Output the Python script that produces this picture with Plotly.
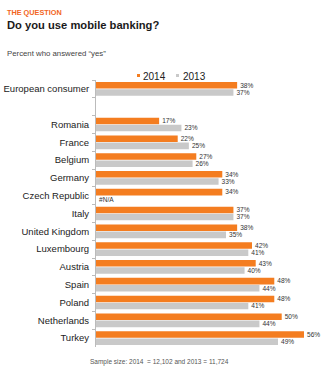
import plotly.graph_objects as go

categories = ["European consumer", " ", "Romania", "France", "Belgium", "Germany",
              "Czech Republic", "Italy", "United Kingdom", "Luxembourg", "Austria",
              "Spain", "Poland", "Netherlands", "Turkey"]
values_2014 = [38, None, 17, 22, 27, 34, 34, 37, 38, 42, 43, 48, 48, 50, 56]
values_2013 = [37, None, 23, 25, 26, 33, None, 37, 35, 41, 40, 44, 41, 44, 49]
series_names = ["2014", "2013"]
blank_rows = [" "]

ORANGE = "#F47D20"
GRAY = "#C9C9C9"

W, H = 334, 373
ml, mr, mt, mb = 96, 4, 80, 26
pw, ph = W - ml - mr, H - mt - mb


def px(x):
    return (x - ml) / pw


def py(y):
    return 1 - (y - mt) / ph


def xs(vals):
    return [v if v is not None else 0 for v in vals]


def texts(vals):
    out = []
    for c, v in zip(categories, vals):
        if c in blank_rows:
            out.append("")
        elif v is None:
            out.append("#N/A")
        else:
            out.append(f"{v}%")
    return out


fig = go.Figure()
for name, vals, col in zip(series_names, [values_2014, values_2013], [ORANGE, GRAY]):
    fig.add_trace(go.Bar(
        name=name, y=categories, x=xs(vals), orientation="h",
        marker=dict(color=col, line=dict(width=0)),
        text=texts(vals), textposition="outside", cliponaxis=False,
        textfont=dict(size=7, color="#333333", family="Liberation Sans"),
        showlegend=False,
    ))

annotations = [
    dict(text="<b>THE QUESTION</b>", x=5, y=6,
         font=dict(size=7.3, color="#F26522")),
    dict(text="<b>Do you use mobile banking?</b>", x=5, y=17,
         font=dict(size=11.2, color="#1a1a1a")),
    dict(text="Percent who answered \u201cyes\u201d", x=5, y=47,
         font=dict(size=7.8, color="#444444")),
    dict(text="Sample size: 2014  = 12,102 and 2013 = 11,724", x=88, y=356,
         font=dict(size=6.5, color="#555555")),
    dict(text="2014", x=141, y=69, font=dict(size=10, color="#222222")),
    dict(text="2013", x=181, y=69, font=dict(size=10, color="#222222")),
]
for a in annotations:
    a.update(showarrow=False, xanchor="left", yanchor="top",
             xref="paper", yref="paper", x=px(a["x"]), y=py(a["y"]))
    a["font"]["family"] = "Liberation Sans"

shapes = []
for x0, col in [(137, ORANGE), (176, GRAY)]:
    shapes.append(dict(type="rect", xref="paper", yref="paper",
                       x0=px(x0), x1=px(x0 + 3), y0=py(74), y1=py(77),
                       fillcolor=col, line=dict(width=0)))

fig.update_layout(
    width=W, height=H,
    margin=dict(l=ml, r=mr, t=mt, b=mb),
    paper_bgcolor="white", plot_bgcolor="white",
    barmode="group", bargap=0.2, bargroupgap=0.08,
    font=dict(family="Liberation Sans", color="#222222"),
    showlegend=False,
    xaxis=dict(range=[0, 63], visible=False, fixedrange=True),
    yaxis=dict(categoryorder="array", categoryarray=categories, autorange="reversed",
               showline=True, linecolor="#BBBBBB", linewidth=1,
               ticks="outside", tickson="boundaries", ticklen=3, tickcolor="#BBBBBB",
               tickfont=dict(size=9.5, color="#222222"), showgrid=False,
               ticklabelstandoff=4),
    annotations=annotations,
    shapes=shapes,
)

fig.write_html("out.html")
